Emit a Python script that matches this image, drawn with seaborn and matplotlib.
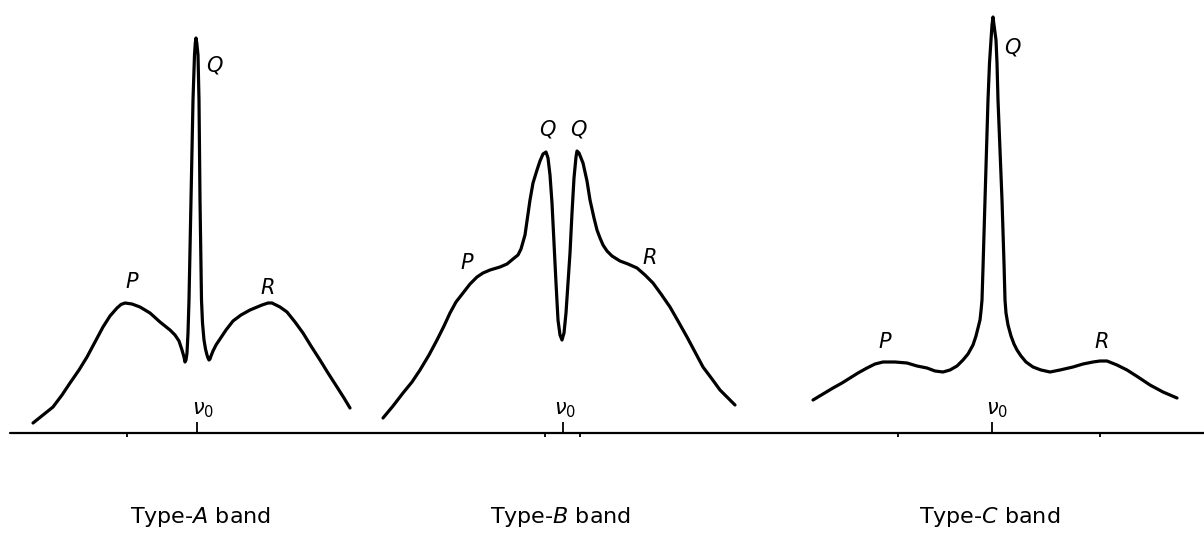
import matplotlib
matplotlib.use("Agg")
import matplotlib.pyplot as plt
import pandas as pd
import seaborn as sns

# Band contours: frequency position and intensity above the baseline
band_a_x = [33, 43, 53, 62, 70, 79, 87, 95, 103, 110, 117, 121, 125, 132, 140, 150,
            160, 170, 175, 179, 182, 184, 185, 186, 187, 188, 189, 191, 193, 194.5,
            195.3, 196, 196.8, 198, 199, 200, 201.5, 202.5, 204, 205.5, 207, 208,
            209, 210, 211, 213, 216, 220, 226, 233, 241, 250, 262, 268, 272, 280,
            287, 295, 303, 311, 320, 328, 337, 344, 350]
band_a_y = [10, 18, 26, 38, 50, 63, 76, 91, 106, 117, 125, 128.5, 130, 129, 126, 120,
            111, 103, 98, 92, 83, 76, 71, 73, 80, 100, 133, 233, 333, 378,
            390, 395, 390, 378, 333, 233, 133, 110, 93, 84, 78, 75,
            73, 74, 77, 82, 88, 94, 103, 112, 118, 123, 128, 130, 130, 126,
            121, 111, 100, 87, 73, 60, 46, 35, 25]

band_b_x = [383, 393, 403, 412, 420, 429, 437, 444, 450, 456, 463, 470, 477, 483, 490,
            500, 507, 513, 518, 521, 523, 525, 527, 530, 533, 537, 540, 543, 546,
            548, 550, 552, 554, 556, 558, 560, 562, 564, 566, 568, 570, 572, 574,
            576, 577, 579, 583, 587, 590, 594, 597, 600, 603, 607, 612, 620, 628,
            637, 645, 653, 661, 670, 678, 687, 695, 703, 712, 720, 728, 735]
band_b_y = [15, 27, 40, 51, 63, 78, 93, 107, 120, 131, 140, 149, 156, 160, 163,
            166, 169, 174, 178, 184, 191, 198, 212, 233, 250, 263, 272, 279, 281,
            275, 258, 230, 190, 150, 113, 98, 93, 100, 120, 150, 180, 220, 255,
            276, 282, 280, 270, 252, 233, 215, 203, 195, 188, 182, 177, 172, 169,
            165, 158, 150, 139, 126, 112, 96, 81, 66, 54, 43, 35, 28]

band_c_x = [813, 823, 833, 842, 850, 858, 867, 875, 883, 895, 907, 917, 927, 935, 943,
            950, 957, 963, 968, 973, 976, 978, 980, 981, 982, 983, 985, 986.5, 988,
            989.5, 991, 992, 993, 994, 996, 997, 998, 1000, 1002, 1004, 1005, 1006,
            1008, 1011, 1014, 1017, 1021, 1026, 1033, 1041, 1050, 1060, 1073, 1083,
            1093, 1100, 1107, 1117, 1127, 1138, 1150, 1163, 1177]
band_c_y = [33, 39, 45, 50, 55, 60, 65, 69, 71, 71, 70, 67, 65, 62, 61,
            63, 67, 73, 79, 88, 97, 105, 113, 122, 133, 165, 233, 283, 333,
            370, 393, 408, 416, 408, 393, 370, 333, 283, 233, 170, 133, 120,
            108, 97, 89, 83, 77, 71, 66, 63, 61, 63, 66, 69,
            71, 72, 72, 68, 63, 56, 48, 41, 35]

# Band origins and reference ticks on the frequency axis
nu0_positions = [197, 563, 992]
minor_ticks = [127, 545, 580, 898, 1100]

# Branch labels (text, x, y)
branch_labels = [
    ("P", 132, 151), ("Q", 214, 368), ("R", 268, 145),
    ("P", 467, 170), ("Q", 547, 303), ("Q", 578, 303), ("R", 650, 175),
    ("P", 885, 91), ("Q", 1012, 385), ("R", 1102, 91),
]
nu0_label_pos = [(203, 23), (565, 23), (997, 23)]
band_titles = [("Type-$\\mathit{A}$ band", 200), ("Type-$\\mathit{B}$ band", 560),
               ("Type-$\\mathit{C}$ band", 990)]

sns.set_style("white")
plt.rcParams["font.family"] = ["DejaVu Sans"]
plt.rcParams["mathtext.fontset"] = "dejavusans"
plt.rcParams["text.color"] = "black"

fig = plt.figure(figsize=(12.04, 5.35), dpi=100)
ax = fig.add_axes([0, 0, 1, 1])

frames = []
for name, xs, ys in [("A", band_a_x, band_a_y), ("B", band_b_x, band_b_y),
                     ("C", band_c_x, band_c_y)]:
    frames.append(pd.DataFrame({"freq": xs, "intensity": ys, "band": name}))
df = pd.concat(frames, ignore_index=True)

sns.lineplot(data=df, x="freq", y="intensity", units="band", estimator=None,
             sort=False, color="black", linewidth=2.3, ax=ax, legend=False,
             solid_capstyle="round", solid_joinstyle="round")

# frequency axis
ax.plot([10, 1204], [0, 0], color="black", linewidth=1.6)
ax.vlines(nu0_positions, 0, 11, color="black", linewidth=1.3)
ax.vlines(minor_ticks, -4, 0, color="black", linewidth=1.3)

for text, x, y in branch_labels:
    ax.text(x, y, text, fontsize=15, fontstyle="italic", ha="center", va="center",
            color="black")
for x, y in nu0_label_pos:
    ax.text(x, y, "$\\nu_{0}$", fontsize=15, ha="center", va="center", color="black")
for text, x in band_titles:
    ax.text(x, -84, text, fontsize=16, ha="center", va="center", color="black")

ax.set_xlim(0, 1204)
ax.set_ylim(-102, 433)
ax.axis("off")

fig.savefig("out.png", dpi=100, facecolor="white")
